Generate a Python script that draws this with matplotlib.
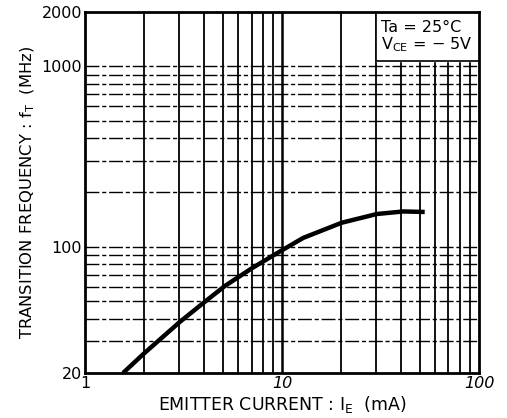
import numpy as np
import matplotlib
matplotlib.use("Agg")
import matplotlib.pyplot as plt
from matplotlib.ticker import FixedLocator, NullLocator

# curve (IE in mA, fT in MHz)
ie_ma = [1.56, 1.98, 3.04, 4.0, 5.13, 7.02, 9.4, 12.8, 20.1, 30.3, 41.3, 53.0]
ft_mhz = [20.0, 25.5, 38.5, 49.0, 60.7, 76.0, 92.0, 112.0, 136.0, 152.0, 157.0, 156.0]

x_grid = [2, 3, 4, 5, 6, 7, 8, 9, 10, 20, 30, 40, 50, 60, 70, 80, 90]
y_grid = [30, 40, 50, 60, 70, 80, 90, 100, 200, 300, 400, 500, 600, 700, 800, 900, 1000]
x_ticks = [1, 10, 100]
x_ticklabels = ["1", "10", "100"]
y_ticks = [20, 100, 1000, 2000]
y_ticklabels = ["20", "100", "1000", "2000"]

plt.rcParams["font.family"] = ["DejaVu Sans"]

fig = plt.figure(figsize=(5.07, 4.18), dpi=100)
ax = fig.add_axes([0.1677, 0.1077, 0.7771, 0.8636])
ax.set_xscale("log")
ax.set_yscale("log")
ax.set_xlim(1, 100)
ax.set_ylim(20, 2000)

# grid lines
for xv in x_grid:
    ax.axvline(xv, color="black", lw=1.3 if xv != 10 else 1.8, zorder=1)
for yv in y_grid:
    ax.axhline(yv, color="black", lw=1.0, ls=(0, (10, 2, 3, 2)), zorder=1)

ax.plot(ie_ma, ft_mhz, color="black", lw=3.2, solid_capstyle="butt",
        solid_joinstyle="round", zorder=3)

ax.xaxis.set_major_locator(FixedLocator(x_ticks))
ax.xaxis.set_minor_locator(NullLocator())
ax.set_xticklabels(x_ticklabels)
ax.yaxis.set_major_locator(FixedLocator(y_ticks))
ax.yaxis.set_minor_locator(NullLocator())
ax.set_yticklabels(y_ticklabels)
ax.tick_params(length=0, labelsize=11.5, pad=2)
for lbl in ax.get_xticklabels()[1:]:
    lbl.set_style("italic")

for s in ax.spines.values():
    s.set_linewidth(2)

ax.set_xlabel("EMITTER CURRENT : I$_\\mathregular{E}$  (mA)", fontsize=12.5, labelpad=2)
ax.set_ylabel("TRANSITION FREQUENCY : f$_\\mathregular{T}$  (MHz)", fontsize=11.8, labelpad=3)

# condition box in the upper right corner
ax.fill_between([30, 100], 1000 * 1.07, 2000, color="white", zorder=2)
ax.plot([30, 30, 100], [2000, 1000 * 1.07, 1000 * 1.07], color="black", lw=1.2, zorder=2)
ax.text(0.751, 0.978, "Ta = 25°C\nV$_\\mathregular{CE}$ = − 5V", transform=ax.transAxes,
        ha="left", va="top", fontsize=11.5, linespacing=1.05, zorder=4)

fig.savefig("out.png", dpi=100)
